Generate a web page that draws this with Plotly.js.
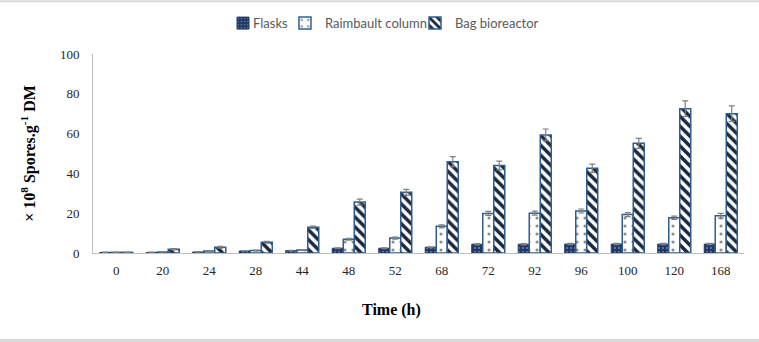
<!DOCTYPE html>
<html>
<head>
<meta charset="utf-8">
<script src="https://cdn.plot.ly/plotly-3.0.1.min.js"></script>
<style>
  html, body { margin: 0; padding: 0; background: #ffffff; }
  #chart { width: 759px; height: 342px; }
</style>
</head>
<body>
<div id="chart"></div>
<script>
// Sampling times (h)
const times = ['0', '20', '24', '28', '44', '48', '52', '68', '72', '92', '96', '100', '120', '168'];

// Spore counts (x 10^8 spores per g dry matter)
const flasks     = [0.3, 0.3, 0.5, 1.0, 1.2, 2.4, 2.4, 2.9, 4.4, 4.4, 4.5, 4.5, 4.5, 4.5];
const raimbault  = [0.3, 0.5, 1.0, 1.2, 1.5, 6.9, 7.5, 13.4, 19.9, 20.0, 21.1, 19.3, 17.7, 18.7];
const bag        = [0.3, 1.9, 2.9, 5.4, 12.9, 25.6, 30.5, 45.9, 44.0, 59.3, 42.6, 55.1, 72.5, 70.0];

// Standard deviations
const flasksErr    = [0.1, 0.1, 0.1, 0.1, 0.1, 0.2, 0.2, 0.2, 0.3, 0.3, 0.3, 0.3, 0.3, 0.3];
const raimbaultErr = [0.1, 0.1, 0.2, 0.2, 0.2, 0.5, 0.5, 0.8, 1.0, 1.0, 1.0, 1.0, 0.8, 1.2];
const bagErr       = [0.1, 0.3, 0.4, 0.5, 0.6, 1.5, 1.5, 2.5, 2.2, 3.0, 2.1, 2.5, 3.9, 3.9];

const seriesNames = ['Flasks', 'Raimbault column', 'Bag bioreactor'];

const outline = '#2f5d8c';
const errStyle = (arr) => ({ type: 'data', array: arr, visible: true, color: '#7f7f7f', thickness: 1.2, width: 3 });

const traces = [
  {
    type: 'bar', name: seriesNames[0], x: times, y: flasks, legend: 'legend',
    error_y: errStyle(flasksErr),
    marker: {
      color: '#1f3864',
      line: { color: '#1f3864', width: 1 },
      pattern: { shape: '.', bgcolor: '#1f3864', fgcolor: '#6f86b0', size: 4, solidity: 0.2 }
    }
  },
  {
    type: 'bar', name: seriesNames[1], x: times, y: raimbault, legend: 'legend2',
    error_y: errStyle(raimbaultErr),
    marker: {
      color: '#ffffff',
      line: { color: outline, width: 1.5 },
      pattern: { shape: '.', bgcolor: '#ffffff', fgcolor: '#8c8c8c', size: 8, solidity: 0.12 }
    }
  },
  {
    type: 'bar', name: seriesNames[2], x: times, y: bag, legend: 'legend3',
    error_y: errStyle(bagErr),
    marker: {
      color: '#ffffff',
      line: { color: outline, width: 1.5 },
      pattern: { shape: '\\', bgcolor: '#ffffff', fgcolor: '#1a2740', size: 7, solidity: 0.5 }
    }
  }
];

const serif = 'Liberation Serif, Times New Roman, serif';
const legendFont = { family: 'Lato, Open Sans, sans-serif', size: 13, color: '#595959' };
const legendBox = (xp) => ({
  orientation: 'h', x: xp, xanchor: 'left', y: 1.155, yanchor: 'middle',
  font: legendFont, itemwidth: 30, bgcolor: 'rgba(0,0,0,0)'
});

const layout = {
  width: 759, height: 342,
  margin: { l: 93, r: 15, t: 54, b: 89, autoexpand: false },
  paper_bgcolor: '#ffffff', plot_bgcolor: '#ffffff',
  barmode: 'group', bargap: 0.29, bargroupgap: 0,
  showlegend: true,
  legend: legendBox(0.1997),
  legend2: legendBox(0.2949),
  legend3: legendBox(0.4946),
  xaxis: {
    type: 'category',
    showline: true, linecolor: '#bfbfbf', linewidth: 1,
    ticks: '', showgrid: false, zeroline: false,
    tickfont: { family: serif, size: 13, color: '#262626' },
    ticklabelstandoff: 5
  },
  yaxis: {
    range: [0, 100], dtick: 20,
    showline: true, linecolor: '#bfbfbf', linewidth: 1,
    ticks: '', showgrid: false, zeroline: false,
    tickfont: { family: serif, size: 13, color: '#262626' },
    ticklabelstandoff: 10,
    title: {
      text: '× 10<sup>8</sup> Spores.g<sup>-1</sup> DM',
      font: { family: serif, size: 16, color: '#000000', weight: 'bold' },
      standoff: 20
    }
  },
  annotations: [
    {
      text: '<b>Time (h)</b>', xref: 'paper', yref: 'paper', x: 0.458, y: -0.286,
      xanchor: 'center', yanchor: 'middle', showarrow: false,
      font: { family: serif, size: 16, color: '#000000' }
    }
  ],
  shapes: [
    { type: 'line', xref: 'paper', yref: 'paper', x0: -0.16, x1: 1.03, y0: 1.265, y1: 1.265,
      line: { color: '#d9d9d9', width: 2 } },
    { type: 'line', xref: 'paper', yref: 'paper', x0: -0.16, x1: 1.03, y0: -0.44, y1: -0.44,
      line: { color: '#d9d9d9', width: 3 } }
  ]
};

Plotly.newPlot('chart', traces, layout, { displayModeBar: false, staticPlot: true }).then(function (gd) {
  // place each legend label a few pixels after its swatch
  gd.querySelectorAll('.legendtext').forEach(function (t) {
    const item = t.parentNode;
    const swatch = item && item.querySelector('.legendpoints path');
    if (!swatch) return;
    const sw = swatch.getBoundingClientRect();
    const tx = t.getBoundingClientRect();
    const x = parseFloat(t.getAttribute('x')) || 0;
    t.setAttribute('x', x + (sw.right + 4 - tx.left));
  });
});
</script>
</body>
</html>
